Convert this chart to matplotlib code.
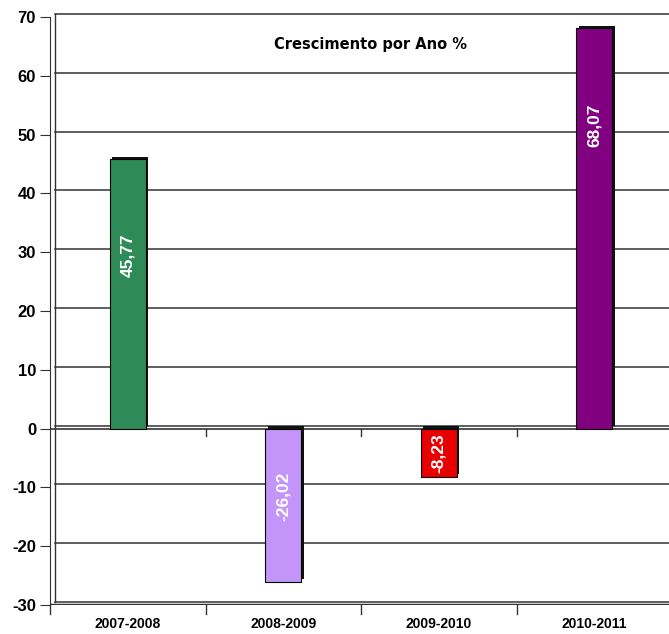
import numpy as np
import matplotlib.pyplot as plt
import matplotlib.transforms as mtransforms

periods = ["2007-2008", "2008-2009", "2009-2010", "2010-2011"]
growth = [45.77, -26.02, -8.23, 68.07]
labels = ["45,77", "-26,02", "-8,23", "68,07"]
colors = ["#2e8b57", "#c495f8", "#e80000", "#800080"]
label_y = [29.4, -11.6, -4.2, 51.5]

fig = plt.figure(figsize=(6.69, 6.34), dpi=100)
ax = fig.add_axes([50/669, 29/634, 622/669, 588/634])

x = np.arange(len(periods))
ax.set_xlim(-0.5, 3.5)
ax.set_ylim(-30, 70)

# back wall grid (shifted a few px up/right like the 3D excel chart)
wall = mtransforms.offset_copy(ax.transData, fig=fig, x=5, y=3, units='dots')
for yv in range(-30, 71, 10):
    ax.plot([-0.5, 3.6], [yv, yv], color="#333333", lw=1.1, transform=wall, zorder=1, clip_on=False)
ax.plot([-0.5, -0.5], [-30, 70], color="#333333", lw=1, transform=wall, zorder=1, clip_on=False)

# zero line and floor
ax.axhline(0, color="#333333", lw=1.2, zorder=1)
ax.axhline(-30, color="#333333", lw=2.5, zorder=1)

# bars with a dark depth face
depth = mtransforms.offset_copy(ax.transData, fig=fig, x=2.5, y=2.5, units='dots')
ax.bar(x, growth, width=0.23, color="#111111", transform=depth, zorder=2)
ax.bar(x, growth, width=0.23, color=colors, edgecolor="black", lw=0.8, zorder=3)

for xi, ly, lab in zip(x, label_y, labels):
    ax.text(xi, ly, lab, rotation=90, ha="center", va="center", color="white",
            fontsize=12.5, fontweight="semibold", family="Liberation Sans", zorder=4)

ax.text(1.56, 65.3, "Crescimento por Ano %", ha="center", va="center",
        fontsize=10.5, fontweight="bold", family="DejaVu Sans")

for s in ["top", "right", "bottom"]:
    ax.spines[s].set_visible(False)
ax.spines["left"].set_color("#333333")

ax.set_yticks(range(-30, 71, 10))
ax.set_yticklabels([str(v) for v in range(-30, 71, 10)], fontsize=12,
                   fontweight="bold", family="Liberation Sans")
ax.tick_params(axis="y", length=7, color="#333333", pad=3)

# category ticks on the bottom axis
ax.set_xticks(x)
ax.set_xticklabels(periods, fontsize=10, fontweight="bold", family="Liberation Sans")
ax.tick_params(axis="x", length=0, pad=9)
for xb in np.arange(-0.5, 3.0, 1.0):
    ax.plot([xb, xb], [-30, -31.6], color="#333333", lw=1, clip_on=False)
    if xb > -0.5:
        ax.plot([xb, xb], [0, -1.2], color="#333333", lw=1)

plt.savefig("out.png", dpi=100)
